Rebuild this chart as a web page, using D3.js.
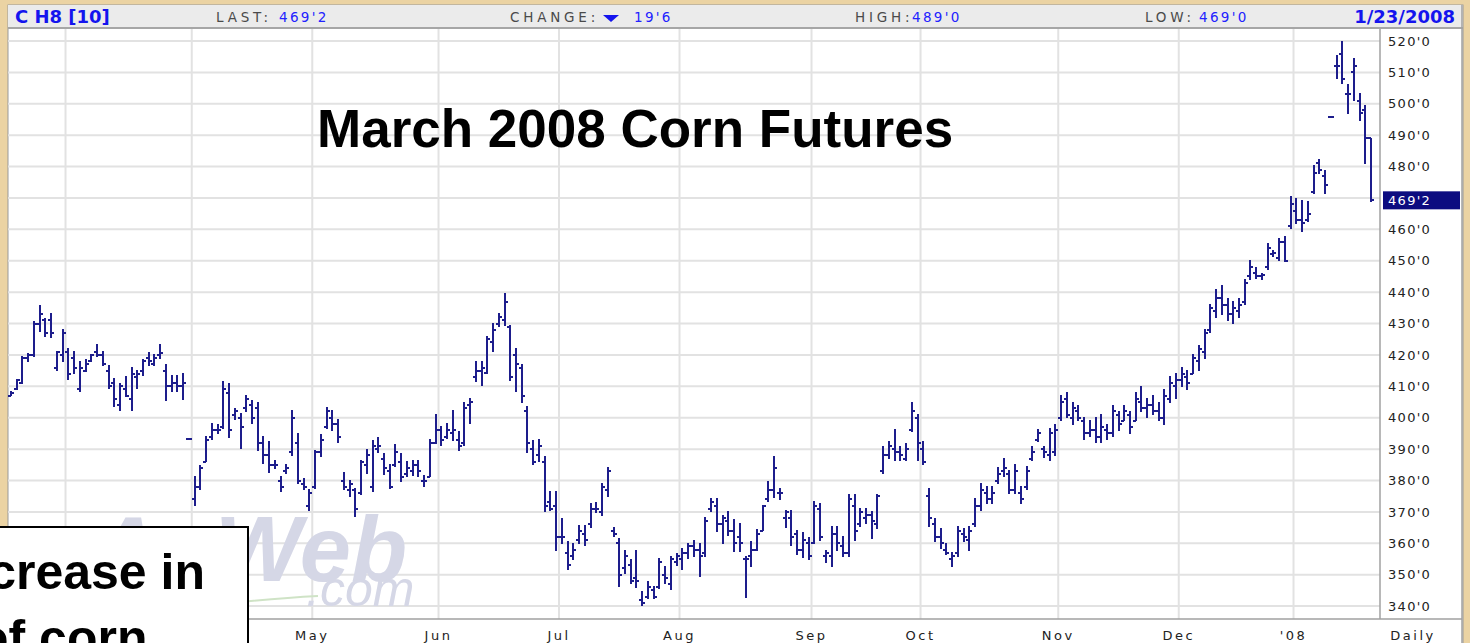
<!DOCTYPE html>
<html><head><meta charset="utf-8">
<script src="https://cdn.jsdelivr.net/npm/d3@7"></script>
<style>
html,body{margin:0;padding:0;background:#ebd3a3;overflow:hidden}
svg{display:block}
</style></head><body>
<svg id="c" width="1470" height="643"></svg>
<script>
// ---- data ----
const highs = [
408.3,412.3,419.6,420.5,430.6,435.6,431.5,433.3,421,428,
422.2,421,417.8,418.4,420,423.2,421,416.5,412.5,411,
413,416,415.2,418.4,420.7,420,423.2,417,413.6,413.6,
414.1,393.5,381.2,384.9,394,398.2,398,411.5,411,403,
401.4,407.2,405.6,405,394,392.3,386.5,381.2,385,402.4,
395,380.7,377,389.7,394.8,403.3,402.4,399.3,382.5,380,
377.5,386.5,390,392.7,393.8,388.7,385,391.6,388.7,386,
386.5,386.5,381.7,393,400.9,397.1,398.2,402.4,395.5,404.8,
406.2,417.8,417.8,425.8,430,433.3,439.6,429.5,422.1,416.8,
403.6,392.9,393,387.6,376.4,376.4,368,360.5,360,365.8,
365.8,372.7,372.9,379,384.2,365,361.6,357.8,354.7,357.8,
344.6,347.8,346.4,355.3,352.6,355.8,356.8,358.4,360,361,
360,368.3,374.3,374.3,368.7,370,367.6,366.4,355.8,360.5,
364.4,372.2,379.6,387.8,377.5,370.4,370.4,364.2,363.5,362,
373.2,372.7,357.8,365.3,365.3,362.1,375.4,375.4,371.1,371.1,
370,375.4,390.8,392.3,396.3,390.8,391.8,405,400.9,392.3,
377.5,368,364.8,360,357,365.3,364.8,365.3,374.3,379,
378,378,384.2,387.1,383.3,385,378,384.4,390.8,396.3,
390.8,396.6,398,407,408,405,404,400,399,400,
401,398,404,402,404,402,408,410,406,407,
405,409,413,414,416,415,420,423,428,436,
441,442,438,437,438,444,450,448,446,455.5,
453.4,457.1,457.7,470.4,469.8,469.3,468.8,480.5,482.1,478.9,
496,515.5,519.8,506,514.5,503.3,499.3,489];
const lows = [
407,408.9,411,418,419.6,427.4,426,425.4,415,417.8,
412.3,414,408.3,414.6,417.8,419.4,416.5,409.4,403.7,402.4,
406.7,402.2,409.4,413.6,416.5,416.5,419,405.4,408.3,408.3,
405.9,393,372.2,377.2,386,393,395,396.6,393.8,399.3,
390.2,401.9,398.2,389.5,385.5,382.5,383.9,376.4,382.3,388,
378.9,377,370.4,377.5,387.6,396.6,396,392,377,374.8,
368.5,375.4,382.3,376.4,388.9,382,377.5,384.4,379.6,381.2,
381.7,381.2,378,381.2,391.8,391.3,393.4,392.9,389.7,391,
398.2,411.5,410.4,414.1,421,429,429.5,412,408.3,405,
389,385.2,386,370,370.6,357.8,360,351.5,354.7,360,
359.4,365,369.7,368.7,374.8,362.1,346.4,350.4,347.2,346,
340.3,342.5,342.5,345.7,347.3,345.2,353,351.5,355.2,355.8,
349.4,355.8,370,363.7,360,362.6,357.3,357.3,342.8,352.6,
357.6,364,373.2,374.6,373.8,365,359.4,356.3,355.5,354.7,
360,361,354,352.6,357.8,355.8,355.8,361,365.3,366.4,
361.6,364.8,382.3,387.1,386.5,386.5,386.5,395.5,386.5,385,
365.5,360.5,358.4,356.3,352.6,355.8,360.5,357.8,365.3,370.6,
372.7,372.7,379.1,381.2,375.9,375.9,372.7,377,386.5,392.4,
387.3,386.5,388,399,400,398,399,393,394,392,
392,393,394,396,399,395,399,402,400,401,
399,398,405,406,410,409,414,415,419,427,
432,433,431,430,432,436,444,444.4,444,447.3,
451.3,450.2,449.7,460.3,461.9,459.3,462.4,471.5,477.9,471.5,
495.5,508.1,506.5,497,501.2,494.8,481,469];
const opens = [
407,409,411,419,420,430,431,431,416,420,
421,419,409,415,418,421,420,415,411,404,
409,406,413,415,419,417,420,415,410,411,
410,393.2,374,378,386,394,396,397,408,401,
400,403,404,403,392,388,385,380,383,389,
392,379,372,378,389,397,400,398,380,377,
377,376,385,378,390,387,383,385,386,382,
383,385,380,381,392,396,394,395,393,392,
404,413,415,414,424,430,431,429,420,416,
402,390,388,386,373,372,362,357,356,361,
363,366,371,370,377,364,360,352,353,349,
342,343,345,346,350,347,354,355,357,359,
358,357,371,372,366,367,364,362,355,356,
358,364,374,377,376,368,368,363,358,360,
360,371,356,356,363,359,357,372,366,368,
369,366,383,388,390,389,387,396,400,390,
375,366,362,358,355,357,363,361,366,372,
376,374,380,383,382,377,376,378,387,393,
390,388,389,400,406,400,402,399,395,396,
394,396,395,401,399,401,399,405,403,404,
402,400,406,410,412,413,414,418,421,428,
434,438,436,433,434,437,445,446,445,448,
452,451,456,461,466,463,463,472,481,477,
495.7,512,516,503,510,501,498,489];
const closes = [
408,412,419,420,430,433,427,427,421,427,
414,416,416,417,420,420,417,410,406,410,
407,414,414,418,418,419,420.5,410,411,410,
411,393.2,378,384,393,396,396,409,396,402,
397,406,400,392,388,385,385,378,384,400,
380,378,376,389,393,402,398,394,378,379,
371,386,388,391,391,384,378,389,381,384,
385,383,380,392,396,393,396,396,391,403,
405,415,416,425,428,432,437,413,417,407,
392,386,391,372,371,362,362,353,358,364,
361,371,371,378,383,363,350,356,348,348,
341,346,343,354,349,355,356,357,359,358,
356,367,373,366,368,364,360,360,355,358,
363,372,377,384,376,370,362,358,361,356,
372,362,357,363,360,357,374,364,370,369,
367,375,388,391,389,388,390,402,392,386,
368,362,360,357,356,364,362,364,372,377,
374,376,382,384,377,383,374,383,389,395,
389,395,396,405,401,403,400,395,396,394,
397,395,402,398,402,397,406,403,404,402,
400,407,411,412,414,411,419,422,427,435,
438,436,433,435,436,443,448,445,445.5,454,
452.5,456,450,468,463,462,465,478,479,474,
495.7,512,508,503,512,497,489,469.25];

// first bar index of each month (for grid lines / labels)
const monthNames  = ["Mar","Apr","May","Jun","Jul","Aug","Sep","Oct","Nov","Dec","'08"];
const monthStarts = [10,32,53,75,96,117,140,159,183,204,224];
const yTicks = [340,350,360,370,380,390,400,410,420,430,440,450,460,470,480,490,500,510,520];

const header = {symbol:"C H8 [10]", last:"469'2", change:"19'6", high:"489'0", low:"469'0", date:"1/23/2008"};
const lastPrice = 469.25;

// ---- drawing ----
const svg = d3.select("#c");
const BAR = "#1d1d8c";
const FONT = "'DejaVu Sans', Verdana, sans-serif";
const ARIAL = "'Liberation Sans', Arial, sans-serif";

const L = 8, R = 1380, T = 29, B = 619, RB = 1462;
const x = d3.scaleLinear().domain([0, highs.length - 1]).range([11, 1371]);
const y = d3.scaleLinear().domain([340, 520]).range([606.1, 41]);

// frame
svg.append("rect").attr("x", L).attr("y", 5).attr("width", RB - L + 1).attr("height", 700)
  .attr("fill", "#fff").attr("stroke", "#9a9a9a").attr("stroke-width", 1);
// header band
svg.append("rect").attr("x", L).attr("y", 5).attr("width", RB - L + 1).attr("height", 23)
  .attr("fill", "#ebebeb");
svg.append("line").attr("x1", L).attr("x2", RB + 1).attr("y1", 28).attr("y2", 28)
  .attr("stroke", "#a6a6a6").attr("stroke-width", 2);

// grid
const g = svg.append("g");
g.selectAll("line.h").data(yTicks).join("line")
  .attr("x1", L).attr("x2", R).attr("y1", d => y(d)).attr("y2", d => y(d))
  .attr("stroke", "#e2e2e2").attr("stroke-width", 2);
g.selectAll("line.v").data(monthStarts).join("line")
  .attr("x1", d => x(d - 0.5)).attr("x2", d => x(d - 0.5)).attr("y1", T).attr("y2", B)
  .attr("stroke", "#e2e2e2").attr("stroke-width", 2);

// axis borders
svg.append("line").attr("x1", R).attr("x2", R).attr("y1", T).attr("y2", B)
  .attr("stroke", "#a0a0a0").attr("stroke-width", 1.5);
svg.append("line").attr("x1", L).attr("x2", RB).attr("y1", B).attr("y2", B)
  .attr("stroke", "#a0a0a0").attr("stroke-width", 1.5);
svg.append("line").attr("x1", RB).attr("x2", RB).attr("y1", 5).attr("y2", 643)
  .attr("stroke", "#a0a0a0").attr("stroke-width", 1.5);

// watermark
const wm = svg.append("g").attr("fill", "#d5d7e6");
wm.append("text").attr("x", 92).attr("y", 581).attr("font-family", ARIAL)
  .attr("font-size", 92).attr("font-weight", "bold").attr("font-style", "italic").text("AgWeb");
wm.append("text").attr("x", 306).attr("y", 606).attr("font-family", ARIAL)
  .attr("font-size", 50).attr("font-style", "italic").text(".com");
svg.append("path").attr("d", "M230,603 Q280,598 318,596").attr("fill", "none")
  .attr("stroke", "#cfe3c6").attr("stroke-width", 2);

// OHLC bars
const data = highs.map((h, i) => ({i, o: opens[i], h, l: lows[i], c: closes[i]}));
const clamp = (v, d) => Math.max(d.l, Math.min(d.h, v));
const bars = svg.append("g").attr("stroke", BAR).attr("stroke-width", 2).attr("shape-rendering", "crispEdges");
bars.selectAll("line.hl").data(data).join("line")
  .attr("x1", d => Math.round(x(d.i))).attr("x2", d => Math.round(x(d.i)))
  .attr("y1", d => y(d.h) - 0.5).attr("y2", d => Math.max(y(d.l) + 0.5, y(d.h) + 1.5));
bars.selectAll("line.o").data(data).join("line")
  .attr("x1", d => Math.round(x(d.i)) - 3).attr("x2", d => Math.round(x(d.i)))
  .attr("y1", d => y(clamp(d.o, d))).attr("y2", d => y(clamp(d.o, d)));
bars.selectAll("line.c").data(data).join("line")
  .attr("x1", d => Math.round(x(d.i))).attr("x2", d => Math.round(x(d.i)) + 3)
  .attr("y1", d => y(clamp(d.c, d))).attr("y2", d => y(clamp(d.c, d)));

// y labels
const fmt = v => Math.floor(v) + "'" + Math.round((v - Math.floor(v)) * 8);
svg.append("g").selectAll("text").data(yTicks).join("text")
  .attr("x", 1388).attr("y", d => y(d)).attr("dy", "0.36em")
  .attr("font-family", FONT).attr("font-size", 13).attr("letter-spacing", 1.3)
  .attr("fill", "#222").text(d => fmt(d));
// last price marker
svg.append("rect").attr("x", 1383).attr("y", y(lastPrice) - 9).attr("width", 77).attr("height", 18)
  .attr("fill", "#0c0c80");
svg.append("text").attr("x", 1388).attr("y", y(lastPrice)).attr("dy", "0.36em")
  .attr("font-family", FONT).attr("font-size", 13).attr("letter-spacing", 1.3)
  .attr("fill", "#fff").text(fmt(lastPrice));

// x labels (Mar / Apr lie under the annotation box in the reference, so they are not drawn)
const shown = monthStarts.map((d, i) => ({d, name: monthNames[i]})).filter(m => x(m.d) > 260);
svg.append("g").selectAll("text").data(shown).join("text")
  .attr("x", m => x(m.d - 0.5)).attr("y", 640).attr("text-anchor", "middle")
  .attr("font-family", FONT).attr("font-size", 13).attr("letter-spacing", 2.5)
  .attr("fill", "#222").text(m => m.name);
svg.append("text").attr("x", 1413).attr("y", 640).attr("text-anchor", "middle")
  .attr("font-family", FONT).attr("font-size", 13).attr("letter-spacing", 2.5)
  .attr("fill", "#222").text("Daily");

// title
svg.append("text").attr("x", 317).attr("y", 147).attr("font-family", ARIAL)
  .attr("font-size", 53).attr("font-weight", "bold").attr("fill", "#000")
  .text("March 2008 Corn Futures");

// header texts
const hd = svg.append("g").attr("font-family", FONT);
hd.append("text").attr("x", 15).attr("y", 23).attr("font-size", 18).attr("font-weight", "bold")
  .attr("fill", "#1414ee").text(header.symbol);
hd.append("text").attr("x", 1455).attr("y", 23).attr("font-size", 18).attr("font-weight", "bold")
  .attr("text-anchor", "end").attr("fill", "#1414ee").text(header.date);
const lab = (xp, t, col, ls) => hd.append("text").attr("x", xp).attr("y", 22).attr("font-size", 13.5)
  .attr("letter-spacing", ls).attr("fill", col).text(t);
lab(216, "LAST:", "#4a4a4a", 3.8); lab(279, header.last, "#2222ff", 2.3);
lab(510, "CHANGE:", "#4a4a4a", 3.8); lab(634, header.change, "#2222ff", 2.3);
lab(855, "HIGH:", "#4a4a4a", 3.8); lab(912, header.high, "#2222ff", 2.3);
lab(1145, "LOW:", "#4a4a4a", 3.8); lab(1199, header.low, "#2222ff", 2.3);
hd.append("path").attr("d", "M603,15 L619,15 L611,22 Z").attr("fill", "#1414ee");

// annotation box (bottom-left, partly outside the picture)
const ann = svg.append("g");
ann.append("rect").attr("x", -20).attr("y", 527).attr("width", 268).attr("height", 200)
  .attr("fill", "#fff").attr("stroke", "#000").attr("stroke-width", 2);
ann.append("text").attr("x", 205).attr("y", 589).attr("text-anchor", "end").attr("font-family", ARIAL)
  .attr("font-size", 50).attr("font-weight", "bold").attr("fill", "#000").text("Increase in");
ann.append("text").attr("x", -22).attr("y", 655).attr("font-family", ARIAL)
  .attr("font-size", 50).attr("font-weight", "bold").attr("fill", "#000").text("of corn");
</script>
</body></html>
